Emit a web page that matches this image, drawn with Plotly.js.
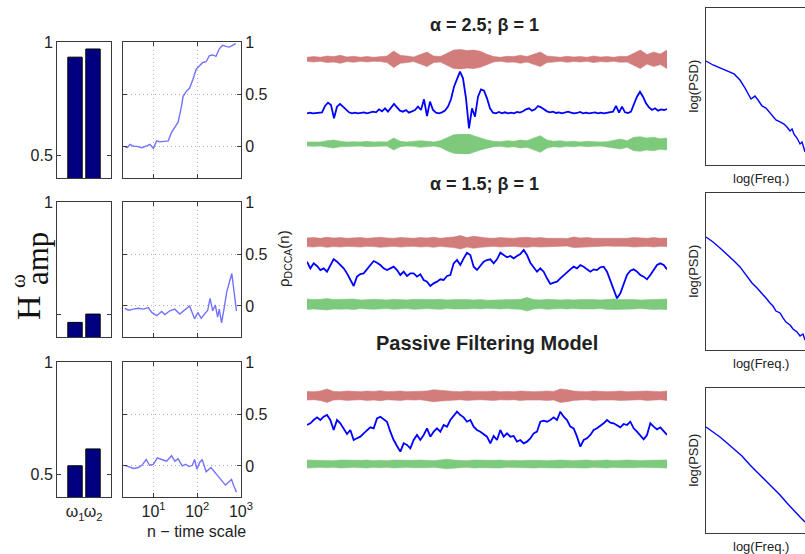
<!DOCTYPE html>
<html>
<head>
<meta charset="utf-8">
<script src="https://cdn.plot.ly/plotly-3.0.1.min.js"></script>
<style>
  html, body { margin: 0; padding: 0; overflow: hidden; background: #fff; width: 805px; height: 554px; }
</style>
</head>
<body>
<div id="fig"></div>
<script>
// ---------- H_amp bars (one pair per model) ----------
const scaleCats = [1, 2];
const scaleTickText = ['ω<sub>1</sub>', 'ω<sub>2</sub>'];
const hampA25 = [0.934, 0.970];
const hampA15 = [0.465, 0.502];
const hampPassive = [0.539, 0.614];

// ---------- rho_DCCA(n) against time scale n ----------
const dccaN_A25 = [2.2,2.5,2.9,3.5,4.2,5.4,7.0,8.3,9.9,11.8,14,18.2,21.7,25.8,30.7,36.5,43.4,47.3,56.3,67,79.6,94.8,113,134,160,190,226,269,320,380,453,539,641,762];
const dccaRho_A25 = [0,-0.01,0.023,0.003,0.003,-0.01,0.007,0.023,-0.016,0.056,0.046,0.049,0.056,0.137,0.186,0.235,0.382,0.48,0.53,0.562,0.644,0.742,0.775,0.807,0.814,0.873,0.879,0.866,0.938,0.971,0.961,0.954,0.971,0.987];
const dccaN_A15 = [2.2,2.7,3.5,4.5,5.9,7.6,9.1,11.8,15.3,18.2,23.6,30.6,39.8,51.6,67,86.9,103,123,146,174,197,226,259,293,320,361,415,476,619,700,791];
const dccaRho_A15 = [-0.025,-0.041,-0.031,-0.022,-0.031,-0.016,-0.063,-0.094,-0.053,-0.084,-0.047,-0.031,-0.078,-0.041,0,-0.125,-0.063,-0.119,-0.078,-0.041,0.072,-0.047,0.009,-0.109,-0.031,-0.163,-0.016,0.14,0.313,0.125,-0.047];
const dccaN_Passive = [2.2,2.7,3.5,4.5,5.4,6.8,8.1,9.9,12.2,15.3,19.9,25.8,30.7,36.5,45.3,54.3,65,77.6,86.9,98.6,113,130,160,206,260,334,441,524,610,700,791];
const dccaRho_Passive = [0.006,-0.006,-0.025,-0.015,0.006,0.062,0.006,0.015,0.077,0.062,0.046,0.099,0.046,0.068,0,0.015,-0.006,0.006,0.062,-0.031,0.031,0.062,-0.056,-0.015,-0.062,-0.123,-0.185,-0.154,-0.13,-0.201,-0.253];

// ---------- time series: envelope of the two inputs, and the output signal ----------
const inputRedEnv_A25 = [0.2,0.27,0.2,0.33,0.27,0.4,0.23,0.3,0.2,0.27,0.2,0.23,0.33,0.83,0.4,0.33,0.23,0.47,0.73,0.33,0.27,0.6,0.93,1.0,0.87,0.93,0.8,0.5,0.27,0.2,0.3,0.27,0.4,0.27,0.47,0.73,0.33,0.27,0.2,0.3,0.23,0.27,0.2,0.33,0.23,0.27,0.2,0.3,0.27,0.6,0.93,0.47,0.73,0.53,0.93];
const inputGreenEnv_A25 = [0.2,0.23,0.2,0.33,0.4,0.27,0.2,0.23,0.2,0.27,0.2,0.23,0.2,0.6,0.27,0.2,0.23,0.33,0.27,0.2,0.33,0.67,0.93,1.0,1.07,0.83,0.6,0.4,0.27,0.23,0.33,0.27,0.4,0.33,0.6,0.83,0.4,0.27,0.33,0.23,0.27,0.2,0.27,0.23,0.2,0.23,0.4,0.5,0.33,0.67,0.73,0.6,0.67,0.53,0.6];
const outputBlue_A25 = [0,0.02,0,0.01,0,0.03,0.22,0.32,0.25,-0.15,0.2,0.28,0.2,0.1,0.03,0,0.02,0,0.01,0.03,0,0.02,0.05,0.03,0.12,0.06,0.15,0.05,0.16,0.28,0.18,0.08,0.05,0.1,0.02,0.05,0.1,0.2,0.1,0.42,-0.08,0.35,0.1,0.02,0,0.03,0.08,0.2,0.42,0.8,1.0,1.25,1.05,0.45,-0.45,0.15,-0.1,0.5,0.72,0.68,0.45,0.15,0.02,0,0.04,0,0.03,0,0.02,0,0.04,0.02,0.06,0.12,0.15,0.08,0.12,0.22,0.18,0.12,0.06,0.03,0.05,0.01,0.03,0,0.02,0.05,0.02,0,0.01,0.04,0,0.02,0,0.01,0.03,0,0.02,0,0.01,0.02,0.05,0.22,0.02,0.2,0.03,0.01,0.05,0.28,0.5,0.65,0.5,0.3,0.18,0.1,0.15,0.08,0.12,0.1,0.13];

const inputRedEnv_A15 = [0.43,0.47,0.4,0.5,0.43,0.47,0.4,0.43,0.47,0.4,0.43,0.5,0.43,0.4,0.47,0.43,0.4,0.47,0.43,0.5,0.4,0.47,0.53,0.67,0.47,0.6,0.5,0.43,0.4,0.47,0.43,0.4,0.47,0.5,0.43,0.47,0.4,0.43,0.4,0.37,0.53,0.43,0.47,0.4,0.4,0.37,0.4,0.43,0.4,0.47,0.43,0.4,0.47,0.4,0.43];
const inputGreenEnv_A15 = [0.53,0.47,0.5,0.57,0.47,0.5,0.47,0.53,0.43,0.47,0.5,0.47,0.43,0.5,0.47,0.43,0.5,0.47,0.43,0.47,0.5,0.43,0.47,0.5,0.47,0.43,0.47,0.4,0.43,0.47,0.43,0.47,0.5,0.67,0.47,0.43,0.5,0.47,0.43,0.47,0.43,0.47,0.5,0.47,0.43,0.5,0.53,0.47,0.5,0.47,0.43,0.47,0.53,0.5,0.53];
const outputBlue_A15 = [0.55,0.35,0.5,0.42,0.3,0.35,0.25,0.45,0.63,0.55,0.45,0.35,0.2,0,-0.18,0.1,0.18,0.2,0.32,0.45,0.57,0.52,0.45,0.35,0.3,0.35,0.4,0.3,0.15,0.25,0.12,0.2,0.2,0.1,0.17,0,-0.05,-0.18,-0.1,-0.05,0.02,0,0.12,0.15,0.5,0.6,0.45,0.65,0.82,0.75,0.4,0.3,0.42,0.55,0.6,0.62,0.5,0.62,0.82,0.75,0.68,0.72,0.65,0.72,0.78,0.9,0.75,0.52,0.38,0.25,0.35,0.25,0.05,-0.12,-0.08,-0.05,0.05,0.15,0.25,0.32,0.4,0.35,0.45,0.4,0.32,0.25,0.32,0.3,0.38,0.4,0.25,0,-0.3,-0.55,-0.4,-0.1,0.15,0.28,0.32,0.25,0.15,0.1,0.02,0.15,0.32,0.45,0.5,0.45,0.32];

const inputRedEnv_Passive = [0.43,0.4,0.47,0.67,0.43,0.4,0.47,0.43,0.4,0.47,0.43,0.5,0.4,0.43,0.47,0.4,0.43,0.4,0.47,0.6,0.53,0.5,0.43,0.4,0.47,0.43,0.4,0.43,0.47,0.4,0.43,0.4,0.47,0.43,0.4,0.43,0.47,0.43,0.67,0.6,0.47,0.43,0.4,0.47,0.43,0.4,0.43,0.47,0.4,0.43,0.4,0.47,0.43,0.4,0.47];
const inputGreenEnv_Passive = [0.4,0.37,0.33,0.37,0.33,0.4,0.37,0.33,0.37,0.4,0.33,0.37,0.33,0.4,0.37,0.33,0.37,0.4,0.37,0.33,0.4,0.47,0.4,0.37,0.33,0.4,0.37,0.33,0.37,0.4,0.33,0.37,0.33,0.37,0.4,0.37,0.33,0.37,0.4,0.37,0.33,0.37,0.4,0.33,0.37,0.4,0.33,0.37,0.4,0.37,0.33,0.37,0.4,0.37,0.4];
const outputBlue_Passive = [0.15,0.2,0.3,0.38,0.3,0.4,0.45,0.3,0,0.3,0.2,0.05,-0.12,0,-0.3,-0.25,-0.2,-0.1,0,0.08,0.05,0.35,0.4,0.32,0.25,-0.05,-0.3,-0.48,-0.65,-0.4,-0.45,-0.55,-0.3,-0.15,-0.3,-0.15,0.05,-0.2,-0.05,0.05,-0.05,0.15,0.1,0.3,0.42,0.55,0.45,0.38,0.25,0.3,0.1,0,-0.05,-0.12,-0.2,-0.4,-0.18,-0.3,0,-0.2,-0.1,-0.2,-0.18,-0.35,-0.3,-0.4,-0.35,-0.25,-0.1,-0.05,0.25,0.28,0.25,0.3,0.38,0.3,0.55,0.4,0.3,0.1,0.05,-0.2,-0.5,-0.3,-0.25,-0.15,0,0.05,0.12,0.2,0.3,0.22,0.2,0.15,0.08,0.18,0.15,0.25,0.05,-0.05,-0.15,-0.28,-0.15,0.2,0.1,0.02,0.08,-0.05,-0.15];

// ---------- output power spectra (log-log) ----------
const psdLogF_A25 = [0,0.064,0.127,0.191,0.255,0.309,0.355,0.409,0.445,0.473,0.509,0.545,0.582,0.609,0.636,0.673,0.709,0.736,0.764,0.782,0.8,0.827,0.855,0.873,0.9];
const psdLogP_A25 = [0.662,0.637,0.618,0.599,0.58,0.541,0.49,0.42,0.439,0.414,0.376,0.363,0.331,0.312,0.287,0.274,0.261,0.242,0.217,0.229,0.197,0.172,0.134,0.146,0.083];
const psdLogF_A15 = [0,0.064,0.127,0.191,0.255,0.309,0.345,0.382,0.418,0.464,0.509,0.545,0.582,0.609,0.636,0.673,0.7,0.727,0.764,0.791,0.827,0.855,0.882,0.9];
const psdLogP_A15 = [0.72,0.688,0.65,0.611,0.567,0.529,0.497,0.465,0.427,0.395,0.363,0.331,0.299,0.28,0.248,0.236,0.204,0.178,0.159,0.134,0.115,0.089,0.102,0.064];
const psdLogF_Passive = [0,0.064,0.127,0.191,0.264,0.327,0.4,0.464,0.536,0.6,0.673,0.736,0.809,0.855,0.9];
const psdLogP_Passive = [0.731,0.697,0.662,0.621,0.572,0.531,0.469,0.421,0.366,0.317,0.262,0.207,0.145,0.11,0.076];

// ---------- figure geometry (pixels on a page wider than the view) ----------
const W = 830, H = 554;
const SANS = 'Liberation Sans, Arial, Helvetica, sans-serif';
const SERIF = 'Liberation Serif, Times New Roman, serif';
const INK = '#222222';
const FRAME = '#3a3a3a';

const layout = {
  width: W, height: H, autosize: false,
  margin: {l: 0, r: 0, t: 0, b: 0},
  paper_bgcolor: '#ffffff', plot_bgcolor: 'rgba(0,0,0,0)',
  showlegend: false, annotations: []
};
const traces = [];
let axCount = 0;

function panel(xpx, ypx, xo, yo) {
  axCount++;
  const s = axCount === 1 ? '' : String(axCount);
  layout['xaxis' + s] = Object.assign({domain: [xpx[0] / W, xpx[1] / W], anchor: 'y' + s, fixedrange: true}, xo);
  layout['yaxis' + s] = Object.assign({domain: [1 - ypx[1] / H, 1 - ypx[0] / H], anchor: 'x' + s, fixedrange: true}, yo);
  return {xaxis: 'x' + s, yaxis: 'y' + s};
}

const boxed = {showline: true, linecolor: FRAME, linewidth: 1, zeroline: false, showgrid: false};
const tickFont = {family: SANS, size: 16, color: INK};
const hidden = {visible: false};
const dotted = {showgrid: true, gridcolor: '#b4b4b4', griddash: '1px,3px', gridwidth: 1};

function text(str, x, y, size, opts) {
  layout.annotations.push(Object.assign({
    text: str, xref: 'paper', yref: 'paper', x: x / W, y: 1 - y / H,
    xanchor: 'center', yanchor: 'middle', showarrow: false,
    font: {family: SANS, size: size, color: INK}
  }, opts || {}));
}

// rows: a = 2.5, a = 1.5, passive filtering
const rows = [
  {top: 42, bottom: 178, hamp: hampA25, n: dccaN_A25, rho: dccaRho_A25,
   red: inputRedEnv_A25, green: inputGreenEnv_A25, blue: outputBlue_A25,
   redC: 59.3, greenC: 144, blueRange: [-0.6, 1.4], bluePx: [66.7, 133.3],
   psdF: psdLogF_A25, psdP: psdLogP_A25, psdPx: [8, 165]},
  {top: 202, bottom: 337, hamp: hampA15, n: dccaN_A15, rho: dccaRho_A15,
   red: inputRedEnv_A15, green: inputGreenEnv_A15, blue: outputBlue_A15,
   redC: 242.3, greenC: 304.3, blueRange: [-0.7, 1.0], bluePx: [246.7, 303.3],
   psdF: psdLogF_A15, psdP: psdLogP_A15, psdPx: [193, 350]},
  {top: 362, bottom: 497, hamp: hampPassive, n: dccaN_Passive, rho: dccaRho_Passive,
   red: inputRedEnv_Passive, green: inputGreenEnv_Passive, blue: outputBlue_Passive,
   redC: 395.7, greenC: 464, blueRange: [-0.7, 0.7], bluePx: [406.7, 453.3],
   psdF: psdLogF_Passive, psdP: psdLogP_Passive, psdPx: [388, 533]}
];

function band(env, ax, color) {
  const xs = env.map((_, i) => i / (env.length - 1));
  const up = env.slice();
  const down = env.map(v => -v).reverse();
  return Object.assign({
    type: 'scatter', mode: 'lines',
    x: xs.concat(xs.slice().reverse()), y: up.concat(down),
    fill: 'toself', fillcolor: color, line: {color: color, width: 0.6},
    hoverinfo: 'skip'
  }, ax);
}

rows.forEach((r, k) => {
  const last = k === rows.length - 1;

  // H_amp bars
  const bAx = panel([57, 111], [r.top, r.bottom],
    Object.assign({}, boxed, {mirror: true, range: [0, 3], ticks: '', tickvals: scaleCats,
      ticktext: scaleTickText, showticklabels: last, tickangle: 0, tickfont: tickFont}),
    Object.assign({}, boxed, {mirror: 'ticks', range: [0.4, 1.001], tickvals: [0.5, 1],
      ticktext: k === 1 ? ['', '1'] : ['0.5', '1'], ticks: 'inside', ticklen: 4,
      tickcolor: FRAME, tickfont: tickFont}));
  traces.push(Object.assign({type: 'bar', x: scaleCats, y: r.hamp, width: 0.8,
    marker: {color: '#000080', line: {color: '#000000', width: 1}}}, bAx));

  // rho_DCCA(n)
  const lAx = panel([123, 241], [r.top, r.bottom],
    Object.assign({}, boxed, dotted, {mirror: 'ticks', type: 'log', range: [Math.log10(2), 3.002],
      tickvals: [10, 100, 1000], ticktext: ['10<sup>1</sup>', '10<sup>2</sup>', '10<sup>3</sup>'],
      showticklabels: last, tickangle: 0, tickfont: tickFont, ticks: 'inside', ticklen: 4, tickcolor: FRAME}),
    Object.assign({}, boxed, dotted, {mirror: 'ticks', side: 'right', range: [-0.3, 1.003],
      tickvals: [0, 0.5, 1], ticktext: ['0', '0.5', '1'], tickfont: tickFont,
      ticks: 'inside', ticklen: 4, tickcolor: FRAME}));
  traces.push(Object.assign({type: 'scatter', mode: 'lines', x: r.n, y: r.rho,
    line: {color: '#7373ff', width: 1.4}}, lAx));

  // input / output strips
  const strip = [307, 667];
  const redAx = panel(strip, [r.redC - 10, r.redC + 10],
    Object.assign({}, hidden, {range: [0, 1]}), Object.assign({}, hidden, {range: [-1, 1]}));
  traces.push(band(r.red, redAx, '#d27c7c'));
  const greenAx = panel(strip, [r.greenC - 10, r.greenC + 10],
    Object.assign({}, hidden, {range: [0, 1]}), Object.assign({}, hidden, {range: [-1, 1]}));
  traces.push(band(r.green, greenAx, '#7dca7d'));
  const blueAx = panel(strip, r.bluePx,
    Object.assign({}, hidden, {range: [0, 1]}), Object.assign({}, hidden, {range: r.blueRange}));
  traces.push(Object.assign({type: 'scatter', mode: 'lines',
    x: r.blue.map((_, i) => i / (r.blue.length - 1)), y: r.blue,
    line: {color: '#0000ff', width: 1.8}}, blueAx));

  // power spectrum
  const pAx = panel([706, 816], r.psdPx,
    Object.assign({}, boxed, {mirror: true, range: [0, 1], showticklabels: false, ticks: ''}),
    Object.assign({}, boxed, {mirror: true, range: [0, 1], showticklabels: false, ticks: ''}));
  traces.push(Object.assign({type: 'scatter', mode: 'lines', x: r.psdF, y: r.psdP,
    line: {color: '#0000ff', width: 1.4}}, pAx));
  text('log(PSD)', 693, (r.psdPx[0] + r.psdPx[1]) / 2, 13, {textangle: -90});
  text('log(Freq.)', 761, r.psdPx[1] + 13, 13);
});

// panel titles
text('<b>α = 2.5; β = 1</b>', 484, 25, 18);
text('<b>α = 1.5; β = 1</b>', 484, 184, 18);
text('<b>Passive Filtering Model</b>', 487, 343, 20);

// axis labels
text('n − time scale', 196, 531, 16);
text('ρ<sub>DCCA</sub>(n)', 284, 259, 15, {textangle: -90});
text('H', 28, 308, 34, {textangle: -90, font: {family: SERIF, size: 34, color: '#111'}});
text('amp', 37, 259, 31, {textangle: -90, font: {family: SERIF, size: 31, color: '#111'}});
text('ω', 18, 281, 21, {textangle: -90, font: {family: SERIF, size: 21, color: '#111'}});

Plotly.newPlot('fig', traces, layout, {displayModeBar: false, staticPlot: true});
</script>
</body>
</html>
